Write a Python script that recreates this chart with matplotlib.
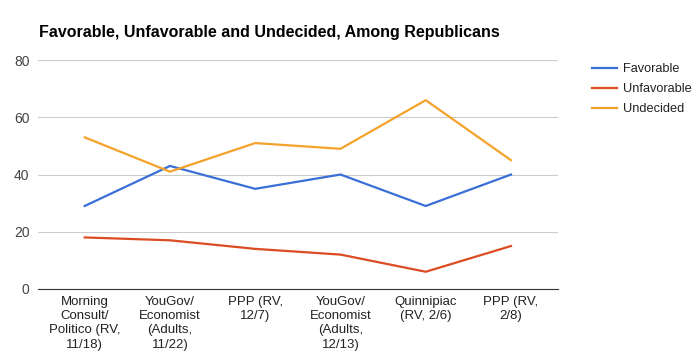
import matplotlib.pyplot as plt

polls = ['Morning\nConsult/\nPolitico (RV,\n11/18)',
         'YouGov/\nEconomist\n(Adults,\n11/22)',
         'PPP (RV,\n12/7)',
         'YouGov/\nEconomist\n(Adults,\n12/13)',
         'Quinnipiac\n(RV, 2/6)',
         'PPP (RV,\n2/8)']
favorable = [29, 43, 35, 40, 29, 40]
unfavorable = [18, 17, 14, 12, 6, 15]
undecided = [53, 41, 51, 49, 66, 45]

plt.rcParams['font.family'] = ['Liberation Sans', 'DejaVu Sans']

fig = plt.figure(figsize=(7, 3.58), dpi=100)
ax = fig.add_axes([0.054, 0.193, 0.743, 0.639])

x = range(len(polls))
ax.plot(x, favorable, color='#3a6fd8', lw=1.6, label='Favorable')
ax.plot(x, unfavorable, color='#dc4c22', lw=1.6, label='Unfavorable')
ax.plot(x, undecided, color='#f5a22a', lw=1.6, label='Undecided')

ax.set_xlim(-0.55, 5.55)
ax.set_ylim(0, 80)
ax.set_yticks([0, 20, 40, 60, 80])
ax.set_xticks(list(x))
ax.set_xticklabels(polls, fontsize=9.5, color='#222222', linespacing=1.25)
ax.tick_params(axis='y', labelsize=10, colors='#444444', length=0, pad=6)
ax.tick_params(axis='x', length=0, pad=5)
ax.grid(axis='y', color='#cccccc', lw=0.8)
ax.set_axisbelow(True)
for s in ['top', 'right', 'left']:
    ax.spines[s].set_visible(False)
ax.spines['bottom'].set_color('#333333')
ax.spines['bottom'].set_zorder(5)

fig.text(0.056, 0.908, 'Favorable, Unfavorable and Undecided, Among Republicans',
         fontsize=11.5, fontweight='bold', color='#000000', va='center')

ax.legend(loc='upper left', bbox_to_anchor=(1.065, 0.987), frameon=False,
          borderpad=0, borderaxespad=0,
          fontsize=9.2, handlelength=1.95, labelspacing=0.63, handletextpad=0.47,
          labelcolor='#222222')

fig.savefig('out.png', dpi=100)
